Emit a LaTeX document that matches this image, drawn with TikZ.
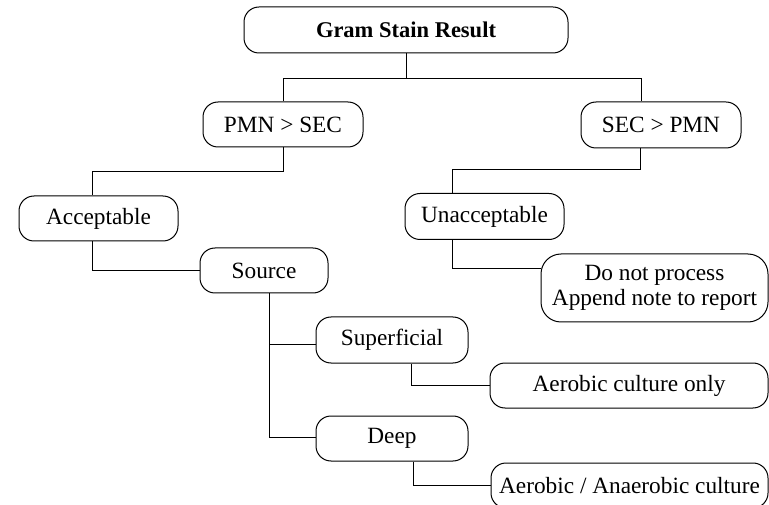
\documentclass[tikz,border=0pt]{standalone}
\usepackage{fontspec}
\setmainfont{Liberation Serif}
\usetikzlibrary{calc}
\tikzset{
  box/.style={draw=black, line width=1pt, rounded corners=15pt, inner sep=0pt,
    align=center, font=\fontsize{23.3}{25}\selectfont},
  link/.style={draw=black, line width=1pt}
}
\begin{document}
\begin{tikzpicture}[x=1pt,y=-1pt]
\useasboundingbox (0,0) rectangle (769,505);
\clip (0,0) rectangle (769,505);
\node[box, minimum width=324pt, minimum height=46pt, font=\bfseries\fontsize{22.5}{25}\selectfont] (title) at (406,30) {Gram Stain Result};
\node[box, minimum width=160pt, minimum height=45pt] (pmn) at (283,124.5) {PMN > SEC};
\node[box, minimum width=160pt, minimum height=46pt] (sec) at (661,125) {SEC > PMN};
\node[box, minimum width=159pt, minimum height=45pt] (acc) at (98.5,218.5) {Acceptable};
\node[box, minimum width=159pt, minimum height=46pt] (unacc) at (484.5,216.5) {Unacceptable};
\node[box, minimum width=128pt, minimum height=45pt] (source) at (264,270.5) {Source};
\node[box, rounded corners=20pt, minimum width=227pt, minimum height=68pt] (dnp) at (654.5,288) {Do not process\\Append note to report};
\node[box, minimum width=152pt, minimum height=46pt] (sup) at (392,340) {Superficial};
\node[box, minimum width=278pt, minimum height=45pt] (aco) at (629,385.5) {Aerobic culture only};
\node[box, minimum width=152pt, minimum height=45pt] (deep) at (392,438.5) {Deep};
\node[box, minimum width=277pt, minimum height=45pt] (aac) at (629.5,485.5) {Aerobic / Anaerobic culture};

\draw[link] (title.south) -- ++(0,25) -| (pmn.north);
\draw[link] (title.south) ++(0,25) -| ($(sec.north west)+(61,0)$);
\draw[link] (pmn.south) -- ++(0,24) -| ($(acc.north west)+(74,0)$);
\draw[link] ($(sec.south west)+(60,0)$) -- ++(0,21) -| ($(unacc.north west)+(48,0)$);
\draw[link] ($(acc.south west)+(74,0)$) |- (source.west);
\draw[link] ($(unacc.south west)+(48,0)$) |- ($(dnp.north west)+(0,15)$);
\draw[link] ($(source.south west)+(70,0)$) |- ($(sup.west)+(0,4)$);
\draw[link] ($(source.south west)+(70,0)$) |- ($(deep.west)+(0,-1.5)$);
\draw[link] ($(sup.south west)+(96,0)$) |- (aco.west);
\draw[link] ($(deep.south west)+(98,0)$) |- (aac.west);
\end{tikzpicture}
\end{document}
